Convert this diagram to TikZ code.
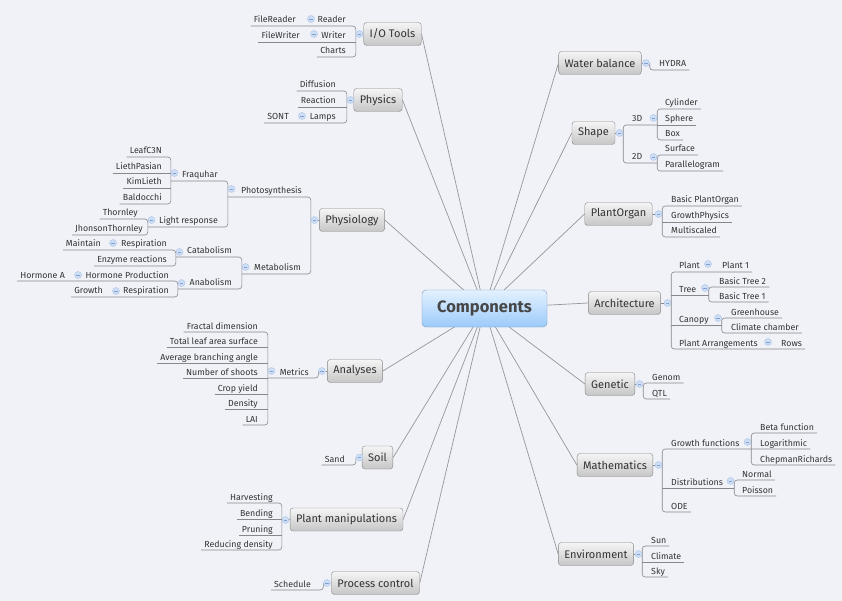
\documentclass[tikz,border=0pt]{standalone}
\usepackage{fontspec}
\setmainfont{Fira Sans}
\definecolor{canvas}{RGB}{241,242,248}
\definecolor{ink}{RGB}{51,51,51}
\definecolor{spokegray}{RGB}{150,150,155}
\definecolor{branchgray}{RGB}{135,135,140}
\definecolor{mkfill}{RGB}{205,222,245}
\definecolor{mkline}{RGB}{170,195,230}
\definecolor{mkbar}{RGB}{130,160,210}
\definecolor{rootline}{RGB}{120,150,190}
\definecolor{roottop}{RGB}{228,241,255}
\definecolor{rootbot}{RGB}{155,203,250}
\definecolor{topicline}{RGB}{135,135,135}
\definecolor{topictop}{RGB}{245,245,245}
\definecolor{topicbot}{RGB}{198,198,198}
\pgfdeclarelayer{bg}
\pgfdeclarelayer{edges}
\pgfsetlayers{bg,edges,main}
\begin{document}
\begin{tikzpicture}[x=1pt, y=-1pt, font=\fontsize{8.8}{10.5}\selectfont,
          root/.style={draw=rootline, rounded corners=4pt, top color=roottop, bottom color=rootbot,
            text=ink!90, font=\bfseries\fontsize{16.5}{19}\selectfont, minimum width=125pt, minimum height=37pt},
          topic/.style={draw=topicline, rounded corners=3pt, top color=topictop, bottom color=topicbot,
            text=ink, font=\fontsize{11}{13}\selectfont, minimum height=23pt, inner xsep=6pt},
          leaf/.style={text=ink, inner xsep=3pt, inner ysep=1.2pt, text height=6.6pt, text depth=1.6pt},
          mk/.style={circle, minimum size=7pt, inner sep=0pt, fill=mkfill, draw=mkline, line width=0.4pt,
            path picture={\draw[mkbar, line width=0.6pt] ([xshift=-1.8pt]path picture bounding box.center)
              -- ([xshift=1.8pt]path picture bounding box.center);}},
          spoke/.style={draw=spokegray, line width=0.7pt},
          branch/.style={draw=branchgray, line width=0.6pt, rounded corners=3pt}]
        \begin{pgfonlayer}{bg}
          \fill[canvas] (0,0) rectangle (842,601);
        \end{pgfonlayer}
        \useasboundingbox (0,0) rectangle (842,601);
        \node[root] (cp) at (484.5,308.5) {Components};
        % left topics
        \node[topic] (io) at (392.5,34) {I/O Tools};
        \node[topic] (phy) at (378,100) {Physics};
        \node[topic] (phys) at (352,220) {Physiology};
        \node[topic] (an) at (355,371) {Analyses};
        \node[topic] (so) at (377.5,457.5) {Soil};
        \node[topic] (pm) at (346.5,519.5) {Plant manipulations};
        \node[topic] (pc) at (375.5,583) {Process control};
        % right topics
        \node[topic] (wb) at (600,63) {Water balance};
        \node[topic] (sh) at (593.5,133) {Shape};
        \node[topic] (po) at (618.5,214) {PlantOrgan};
        \node[topic] (ar) at (624.5,303) {Architecture};
        \node[topic] (ge) at (610,384) {Genetic};
        \node[topic] (ma) at (615,465) {Mathematics};
        \node[topic] (en) at (596,554) {Environment};
        % I/O Tools
        \node[mk] (mIO) at (359.5,34) {};
        \node[leaf, anchor=south east] (rdr) at (349,26) {Reader};
        \node[mk] (mRdr) at (311,19) {};
        \node[leaf, anchor=south east] (frdr) at (299,26) {FileReader};
        \node[leaf, anchor=south east] (wrt) at (349,42) {Writer};
        \node[mk] (mWrt) at (314,34) {};
        \node[leaf, anchor=south east] (fwrt) at (303,42) {FileWriter};
        \node[leaf, anchor=south east] (chr) at (349,57) {Charts};
        % Physics
        \node[mk] (mPhy) at (350.5,100) {};
        \node[leaf, anchor=south east] (dif) at (339,91) {Diffusion};
        \node[leaf, anchor=south east] (rea) at (339,107) {Reaction};
        \node[leaf, anchor=south east] (lmp) at (339,123) {Lamps};
        \node[mk] (mLmp) at (302,116) {};
        \node[leaf, anchor=south east] (sont) at (292,123) {SONT};
        % Physiology
        \node[mk] (mPhys) at (314.5,220) {};
        \node[leaf, anchor=south east] (ps) at (305,197) {Photosynthesis};
        \node[mk] (mPs) at (231.5,189) {};
        \node[leaf, anchor=south east] (fq) at (221,181) {Fraquhar};
        \node[mk] (mFq) at (174.5,173) {};
        \node[leaf, anchor=south east] (lc) at (165,157) {LeafC3N};
        \node[leaf, anchor=south east] (lp) at (165,173) {LiethPasian};
        \node[leaf, anchor=south east] (kl) at (165,188) {KimLieth};
        \node[leaf, anchor=south east] (bd) at (165,204) {Baldocchi};
        \node[leaf, anchor=south east] (lr) at (221,227) {Light response};
        \node[mk] (mLr) at (151.5,220) {};
        \node[leaf, anchor=south east] (th) at (141,219) {Thornley};
        \node[leaf, anchor=south east] (jt) at (146,235) {JhonsonThornley};
        \node[leaf, anchor=south east] (mb) at (304,274) {Metabolism};
        \node[mk] (mMb) at (245.5,267) {};
        \node[leaf, anchor=south east] (cb) at (235,257) {Catabolism};
        \node[mk] (mCb) at (179.5,252) {};
        \node[leaf, anchor=south east] (rs1) at (170,250) {Respiration};
        \node[mk] (mRs1) at (113,243) {};
        \node[leaf, anchor=south east] (mt) at (104,250) {Maintain};
        \node[leaf, anchor=south east] (ez) at (170,266) {Enzyme reactions};
        \node[leaf, anchor=south east] (ab) at (235,289) {Anabolism};
        \node[mk] (mAb) at (181.5,283) {};
        \node[leaf, anchor=south east] (hp) at (172,281) {Hormone Production};
        \node[mk] (mHp) at (78,275) {};
        \node[leaf, anchor=south east] (ha) at (68,281) {Hormone A};
        \node[leaf, anchor=south east] (rs2) at (172,297) {Respiration};
        \node[mk] (mRs2) at (116,291) {};
        \node[leaf, anchor=south east] (gr) at (106,297) {Growth};
        % Analyses
        \node[mk] (mAn) at (322,371) {};
        \node[leaf, anchor=south east] (me) at (312,378) {Metrics};
        \node[mk] (mMe) at (271.5,371) {};
        \node[leaf, anchor=south east] (fd) at (261,332) {Fractal dimension};
        \node[leaf, anchor=south east] (tl) at (261,347) {Total leaf area surface};
        \node[leaf, anchor=south east] (ba) at (261,363) {Average branching angle};
        \node[leaf, anchor=south east] (ns) at (261,378) {Number of shoots};
        \node[leaf, anchor=south east] (cy) at (261,394) {Crop yield};
        \node[leaf, anchor=south east] (dn) at (261,409) {Density};
        \node[leaf, anchor=south east] (lai) at (261,425) {LAI};
        % Soil
        \node[mk] (mSo) at (359.5,457.5) {};
        \node[leaf, anchor=south east] (sd) at (348,465) {Sand};
        % Plant manipulations
        \node[mk] (mPm) at (285.5,520) {};
        \node[leaf, anchor=south east] (hv) at (276,503) {Harvesting};
        \node[leaf, anchor=south east] (bn) at (276,519) {Bending};
        \node[leaf, anchor=south east] (pr) at (276,535) {Pruning};
        \node[leaf, anchor=south east] (rd) at (276,550) {Reducing density};
        % Process control
        \node[mk] (mPc) at (327,583) {};
        \node[leaf, anchor=south east] (sc) at (314,590) {Schedule};
        % Water balance
        \node[mk] (mWb) at (646,63) {};
        \node[leaf, anchor=south west] (hy) at (656,70) {HYDRA};
        % Shape
        \node[mk] (mSh) at (619.5,133) {};
        \node[leaf, anchor=south west] (d3) at (629,125) {3D};
        \node[mk] (mD3) at (653.5,118) {};
        \node[leaf, anchor=south west] (cyl) at (662,109) {Cylinder};
        \node[leaf, anchor=south west] (sph) at (662,125) {Sphere};
        \node[leaf, anchor=south west] (bx) at (662,140) {Box};
        \node[leaf, anchor=south west] (d2) at (629,163) {2D};
        \node[mk] (mD2) at (653.5,157) {};
        \node[leaf, anchor=south west] (sf) at (662,155) {Surface};
        \node[leaf, anchor=south west] (pg) at (662,171) {Parallelogram};
        % PlantOrgan
        \node[mk] (mPo) at (658.5,214) {};
        \node[leaf, anchor=south west] (bpo) at (668,206) {Basic PlantOrgan};
        \node[leaf, anchor=south west] (gp) at (668,222) {GrowthPhysics};
        \node[leaf, anchor=south west] (msc) at (668,237) {Multiscaled};
        % Architecture
        \node[mk] (mAr) at (667.5,303) {};
        \node[leaf, anchor=south west] (pl) at (676,272) {Plant};
        \node[mk] (mPl) at (708,264) {};
        \node[leaf, anchor=south west] (p1) at (719,272) {Plant 1};
        \node[leaf, anchor=south west] (tr) at (676,295) {Tree};
        \node[mk] (mTr) at (705,288) {};
        \node[leaf, anchor=south west] (bt2) at (716,287) {Basic Tree 2};
        \node[leaf, anchor=south west] (bt1) at (716,302) {Basic Tree 1};
        \node[leaf, anchor=south west] (cn) at (676,325) {Canopy};
        \node[mk] (mCn) at (718,318) {};
        \node[leaf, anchor=south west] (gh) at (728,318) {Greenhouse};
        \node[leaf, anchor=south west] (cc) at (728,333) {Climate chamber};
        \node[leaf, anchor=south west] (pa) at (676,349) {Plant Arrangements};
        \node[mk] (mPa) at (768,342) {};
        \node[leaf, anchor=south west] (rows) at (778,349) {Rows};
        % Genetic
        \node[mk] (mGe) at (639.5,384) {};
        \node[leaf, anchor=south west] (gn) at (649,383) {Genom};
        \node[leaf, anchor=south west] (qtl) at (649,399) {QTL};
        % Mathematics
        \node[mk] (mMa) at (658.5,465) {};
        \node[leaf, anchor=south west] (gf) at (668,449) {Growth functions};
        \node[mk] (mGf) at (747.5,442) {};
        \node[leaf, anchor=south west] (bf) at (757,433) {Beta function};
        \node[leaf, anchor=south west] (lg) at (757,449) {Logarithmic};
        \node[leaf, anchor=south west] (cr) at (757,465) {ChepmanRichards};
        \node[leaf, anchor=south west] (ds) at (668,488) {Distributions};
        \node[mk] (mDs) at (730.5,481) {};
        \node[leaf, anchor=south west] (nm) at (739,480) {Normal};
        \node[leaf, anchor=south west] (poi) at (739,496) {Poisson};
        \node[leaf, anchor=south west] (ode) at (668,512) {ODE};
        % Environment
        \node[mk] (mEn) at (638.5,554) {};
        \node[leaf, anchor=south west] (sun) at (648,546) {Sun};
        \node[leaf, anchor=south west] (cl) at (648,562) {Climate};
        \node[leaf, anchor=south west] (sky) at (648,577) {Sky};
        \begin{pgfonlayer}{edges}
          \draw[spoke] (cp.center) -- (io.east);
          \draw[spoke] (cp.center) -- (phy.east);
          \draw[spoke] (cp.center) -- (phys.east);
          \draw[spoke] (cp.center) -- (an.east);
          \draw[spoke] (cp.center) -- (so.east);
          \draw[spoke] (cp.center) -- (pm.east);
          \draw[spoke] (cp.center) -- (pc.east);
          \draw[spoke] (cp.center) -- (wb.west);
          \draw[spoke] (cp.center) -- (sh.west);
          \draw[spoke] (cp.center) -- (po.west);
          \draw[spoke] (cp.center) -- (ar.west);
          \draw[spoke] (cp.center) -- (ge.west);
          \draw[spoke] (cp.center) -- (ma.west);
          \draw[spoke] (cp.center) -- (en.west);
          % left branches
          \draw[branch] (io.west) -- (mIO);
          \draw[branch] (frdr.south west) -- (rdr.south -| mIO.west) -- (chr.south -| mIO.west) -- (chr.south west);
          \draw[branch] (fwrt.south west) -- (wrt.south -| mIO.west);
          \draw[branch] (phy.west) -- (mPhy);
          \draw[branch] (dif.south west) -- (dif.south -| mPhy.west) -- (lmp.south -| mPhy.west) -- (sont.south west);
          \draw[branch] (rea.south west) -- (rea.south -| mPhy.west);
          \draw[branch] (phys.west) -- (mPhys);
          \draw[branch] (ps.south -| mPs.west) -- (ps.south -| mPhys.west) -- (mb.south -| mPhys.west) -- (mb.south -| mMb.west);
          \draw[branch] (fq.south -| mFq.west) -- (fq.south -| mPs.west) -- (lr.south -| mPs.west) -- (lr.south -| mLr.west);
          \draw[branch] (lc.south west) -- (lc.south -| mFq.west) -- (bd.south -| mFq.west) -- (bd.south west);
          \draw[branch] (lp.south west) -- (lp.south -| mFq.west);
          \draw[branch] (kl.south west) -- (kl.south -| mFq.west);
          \draw[branch] (th.south west) -- (th.south -| mLr.west) -- (jt.south -| mLr.west) -- (jt.south west);
          \draw[branch] (cb.south -| mCb.west) -- (cb.south -| mMb.west) -- (ab.south -| mMb.west) -- (ab.south -| mAb.west);
          \draw[branch] (mt.south west) -- (rs1.south -| mCb.west) -- (ez.south -| mCb.west) -- (ez.south west);
          \draw[branch] (ha.south west) -- (hp.south -| mAb.west) -- (rs2.south -| mAb.west) -- (gr.south west);
          \draw[branch] (an.west) -- (mAn);
          \draw[branch] (me.south -| mMe.west) -- (me.south -| mAn.west) -- (mAn.west);
          \draw[branch] (fd.south west) -- (fd.south -| mMe.west) -- (lai.south -| mMe.west) -- (lai.south west);
          \draw[branch] (tl.south west) -- (tl.south -| mMe.west);
          \draw[branch] (ba.south west) -- (ba.south -| mMe.west);
          \draw[branch] (ns.south west) -- (ns.south -| mMe.west);
          \draw[branch] (cy.south west) -- (cy.south -| mMe.west);
          \draw[branch] (dn.south west) -- (dn.south -| mMe.west);
          \draw[branch] (so.west) -- (mSo);
          \draw[branch] (sd.south west) -- (sd.south -| mSo.west) -- (mSo.west);
          \draw[branch] (pm.west) -- (mPm);
          \draw[branch] (hv.south west) -- (hv.south -| mPm.west) -- (rd.south -| mPm.west) -- (rd.south west);
          \draw[branch] (bn.south west) -- (bn.south -| mPm.west);
          \draw[branch] (pr.south west) -- (pr.south -| mPm.west);
          \draw[branch] (pc.west) -- (mPc);
          \draw[branch] (sc.south west) -- (sc.south -| mPc.west) -- (mPc.west);
          % right branches
          \draw[branch] (wb.east) -- (mWb);
          \draw[branch] (mWb.east) -- (hy.south -| mWb.east) -- (hy.south east);
          \draw[branch] (sh.east) -- (mSh);
          \draw[branch] (d3.south -| mD3.east) -- (d3.south -| mSh.east) -- (d2.south -| mSh.east) -- (d2.south -| mD2.east);
          \draw[branch] (cyl.south east) -- (cyl.south -| mD3.east) -- (bx.south -| mD3.east) -- (bx.south east);
          \draw[branch] (sph.south east) -- (sph.south -| mD3.east);
          \draw[branch] (sf.south east) -- (sf.south -| mD2.east) -- (pg.south -| mD2.east) -- (pg.south east);
          \draw[branch] (po.east) -- (mPo);
          \draw[branch] (bpo.south east) -- (bpo.south -| mPo.east) -- (msc.south -| mPo.east) -- (msc.south east);
          \draw[branch] (gp.south east) -- (gp.south -| mPo.east);
          \draw[branch] (ar.east) -- (mAr);
          \draw[branch] (p1.south east) -- (pl.south -| mAr.east) -- (pa.south -| mAr.east) -- (rows.south east);
          \draw[branch] (tr.south -| mAr.east) -- (tr.south -| mTr.east);
          \draw[branch] (cn.south -| mAr.east) -- (cn.south -| mCn.east);
          \draw[branch] (bt2.south east) -- (bt2.south -| mTr.east) -- (bt1.south -| mTr.east) -- (bt1.south east);
          \draw[branch] (gh.south east) -- (gh.south -| mCn.east) -- (cc.south -| mCn.east) -- (cc.south east);
          \draw[branch] (ge.east) -- (mGe);
          \draw[branch] (gn.south east) -- (gn.south -| mGe.east) -- (qtl.south -| mGe.east) -- (qtl.south east);
          \draw[branch] (ma.east) -- (mMa);
          \draw[branch] (lg.south east) -- (gf.south -| mMa.east) -- (ode.south -| mMa.east) -- (ode.south east);
          \draw[branch] (ds.south -| mMa.east) -- (ds.south -| mDs.east);
          \draw[branch] (bf.south east) -- (bf.south -| mGf.east) -- (cr.south -| mGf.east) -- (cr.south east);
          \draw[branch] (nm.south east) -- (nm.south -| mDs.east) -- (poi.south -| mDs.east) -- (poi.south east);
          \draw[branch] (en.east) -- (mEn);
          \draw[branch] (sun.south east) -- (sun.south -| mEn.east) -- (sky.south -| mEn.east) -- (sky.south east);
          \draw[branch] (cl.south east) -- (cl.south -| mEn.east);
        \end{pgfonlayer}
      \end{tikzpicture}
\end{document}
